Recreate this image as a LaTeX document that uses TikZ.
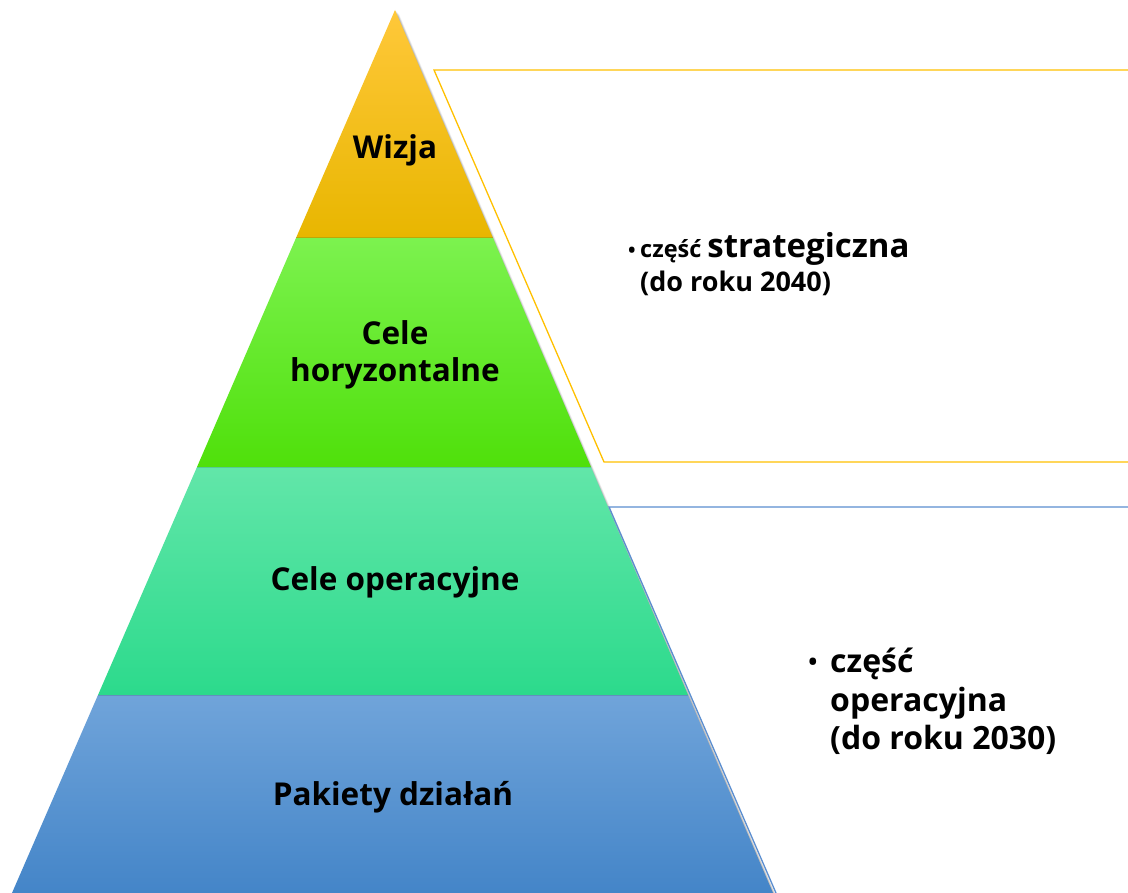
\documentclass[tikz,border=0pt]{standalone}
\usepackage{fontspec}
\setmainfont{Open Sans}
\usetikzlibrary{calc}
\definecolor{yTop}{HTML}{FFC83A}
\definecolor{yBot}{HTML}{E8B600}
\definecolor{gTop}{HTML}{7CF24F}
\definecolor{gBot}{HTML}{4FE00A}
\definecolor{tTop}{HTML}{62E6A9}
\definecolor{tBot}{HTML}{2CDA8C}
\definecolor{bTop}{HTML}{70A4DA}
\definecolor{bBot}{HTML}{4485C8}
\definecolor{yLine}{HTML}{FFC000}
\definecolor{bLine}{HTML}{5B8ED0}
\tikzset{
  lbl/.style={font=\bfseries\fontsize{31.5}{37}\selectfont, align=center, text=black, inner sep=0pt},
  side/.style={font=\bfseries, align=left, text=black, inner sep=0pt, anchor=base west},
  dot/.style={font=\bfseries\fontsize{20}{20}\selectfont, inner sep=0pt, anchor=base},
}
\begin{document}
\begin{tikzpicture}[x=1pt,y=-1pt]
\useasboundingbox (0,0) rectangle (1128,893);
% key coordinates
\coordinate (apex) at (395,10);
\coordinate (bl) at (12,893);
\coordinate (br) at (773,893);
\coordinate (l1) at (296,238); \coordinate (r1) at (493,238);
\coordinate (l2) at (197,467); \coordinate (r2) at (591,467);
\coordinate (l3) at (98,695);  \coordinate (r3) at (688,695);
% shadow
\foreach \o/\a in {4/0.05,3/0.07,2/0.09,1/0.1}{
  \fill[black,opacity=\a] ($(apex)+(\o,\o)$) -- ($(br)+(\o,\o)$) -- ($(bl)+(\o,\o)$) -- cycle;
}
% bands
\shade[top color=yTop, bottom color=yBot] (apex) -- (r1) -- (l1) -- cycle;
\shade[top color=gTop, bottom color=gBot] (l1) -- (r1) -- (r2) -- (l2) -- cycle;
\shade[top color=tTop, bottom color=tBot] (l2) -- (r2) -- (r3) -- (l3) -- cycle;
\shade[top color=bTop, bottom color=bBot] (l3) -- (r3) -- (br) -- (bl) -- cycle;
% thin separators
\draw[black,opacity=0.12,line width=1pt] (l1) -- (r1) (l2) -- (r2) (l3) -- (r3);
% outlines on the right
\coordinate (ya) at (1130,70);
\coordinate (yb) at (434,70);
\coordinate (yc) at (604,462);
\coordinate (yd) at (1130,462);
\draw[yLine,line width=1.3pt] (ya) -- (yb) -- (yc) -- (yd);
\coordinate (ba) at (1130,507);
\coordinate (bb) at (609,507);
\coordinate (bc) at (776,893);
\draw[bLine,line width=1.3pt] (ba) -- (bb) -- (bc);
% labels
\node[lbl] (wizja) at (395,150) {Wizja};
\node[lbl] (hor) at (395,355) {Cele\\horyzontalne};
\node[lbl] (oper) at (395,582) {Cele operacyjne};
\node[lbl] (pak) at (393,797) {Pakiety działań};
% side texts
\node[dot] (d1) at (632,258) {•};
\node[side] (s1) at (640,258) {{\fontsize{23.5}{32}\selectfont część}\hspace{6pt}{\fontsize{33}{36}\selectfont strategiczna}};
\node[side,font=\bfseries\fontsize{27}{32}\selectfont] (s2) at (640,292) {(do roku 2040)};
\node[dot,font=\bfseries\fontsize{24}{24}\selectfont] (d2) at (813,670) {•};
\node[side,font=\bfseries\fontsize{32}{38}\selectfont] (s3) at (830,672) {część};
\node[side,font=\bfseries\fontsize{32}{38}\selectfont] (s4) at (830,711) {operacyjna};
\node[side,font=\bfseries\fontsize{32}{38}\selectfont] (s5) at (830,749) {(do roku 2030)};
\end{tikzpicture}
\end{document}
